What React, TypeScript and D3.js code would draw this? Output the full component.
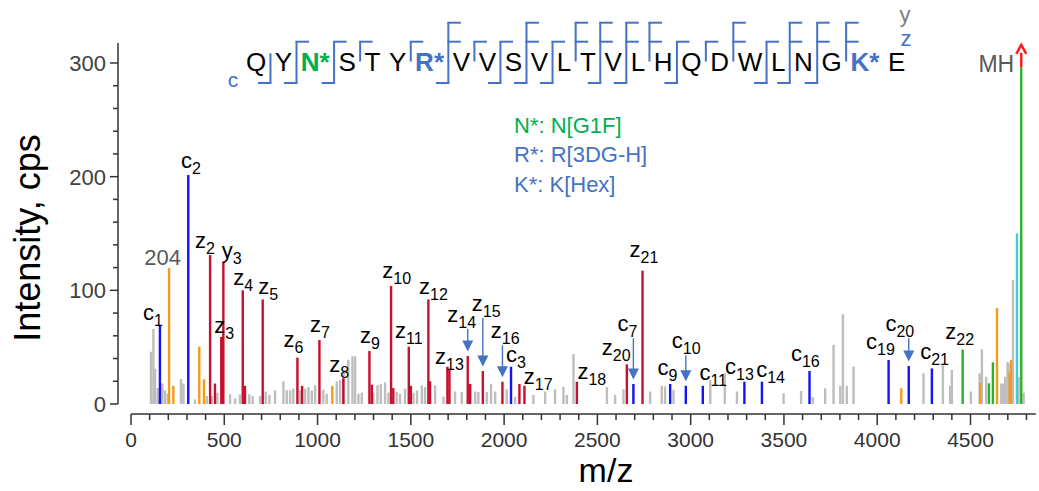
import React from 'react';
import * as d3 from 'd3';

const W = 1039;
const H = 491;

// ---------- DATA ----------
// peaks: [m/z, intensity]
const grayPeaks: [number, number][] = [
  [107, 46], [120, 66], [129, 31], [143, 14], [168, 18], [182, 12], [197, 9], [268, 22], [281, 18],
  [343, 4], [406, 7], [433, 7], [463, 10], [531, 8.5], [558, 5], [584, 8.5], [634, 8.5], [652, 7],
  [692, 7], [722, 11], [742, 8], [772, 12], [817, 20], [835, 12], [853, 12], [870, 13.5], [906, 12],
  [933, 13.5], [951, 15], [969, 12], [987, 16.5], [1031, 12.6], [1049, 9], [1103, 20], [1121, 21],
  [1142, 30], [1165, 39], [1187, 42], [1201, 42], [1219, 9], [1237, 10], [1299, 10], [1321, 16.5],
  [1339, 17.5], [1362, 19], [1380, 10], [1424, 10.5], [1442, 9], [1469, 13.5], [1514, 10], [1533, 12],
  [1559, 16.5], [1576, 15], [1630, 16.5], [1675, 6.5], [1737, 11], [1773, 10.5], [1845, 11], [1862, 10.5],
  [1907, 10.5], [1930, 17.6], [1952, 11], [2014, 13], [2059, 6.5], [2157, 8], [2220, 11], [2273, 13],
  [2318, 15], [2336, 8], [2372, 44], [2551, 15], [2595, 8], [2640, 13], [2783, 11], [2845, 16],
  [2863, 15.5], [2908, 12.5], [3105, 21], [3183, 27], [3248, 11], [3498, 9.4], [3592, 11.4], [3655, 6],
  [3721, 13.8], [3766, 52], [3802, 16], [3816, 79], [3837, 16], [3873, 33], [4248, 27], [4352, 34],
  [4391, 16], [4400, 30], [4502, 11], [4549, 27], [4561, 48], [4584, 24], [4665, 18], [4676, 18],
  [4686, 24], [4698, 37], [4704, 36], [4713, 27], [4728, 109], [4758, 24], [4785, 10],
];
const zyPeaks: [number, number][] = [
  [424, 131], [450, 18], [484, 59], [490, 59], [495, 124.6], [599, 100], [611, 16], [706, 92],
  [892, 40.8], [917, 16], [1010, 56.3], [1138, 22.6], [1278, 46.6], [1291, 17], [1394, 103.8],
  [1406, 14], [1489, 50.4], [1500, 16], [1594, 92], [1603, 20], [1696, 32.8], [1707, 30],
  [1805, 42.2], [1818, 17.6], [1886, 29], [1991, 19.6], [2082, 17.6], [2109, 16], [2390, 19.6],
  [2658, 34.9], [2742, 117.3],
];
const cPeaks: [number, number][] = [
  [155, 69.5], [307, 201.5], [2037, 32.8], [2693, 17.6], [2890, 17.6], [2974, 16], [3065, 16],
  [3288, 19.6], [3382, 19.6], [3637, 29], [4061, 38.7], [4169, 33.4], [4293, 31.3],
];
const orangePeaks: [number, number][] = [
  [204, 119.6], [227, 16], [366, 50.4], [391, 21.7], [1079, 16], [4129, 13.8], [4552, 18.7],
  [4642, 84.5], [4710, 27.6], [4717, 38.7],
];
const greenPeaks: [number, number][] = [[4458, 48], [4599, 18.2], [4620, 36.7], [4772, 296]];
const cyanPeaks: [number, number][] = [[4749, 150]];
const precursorMz = 4772;
const precursorTop = 316;

// ion labels: [ion letter, index, m/z of its peak, intensity of its peak]
const ionLabels: [string, number, number, number][] = [
  ['c', 1, 155, 69.5], ['c', 2, 307, 201.5], ['z', 2, 424, 131], ['y', 3, 495, 124.6],
  ['z', 3, 484, 59], ['z', 4, 599, 100], ['z', 5, 706, 92], ['z', 6, 892, 40.8], ['z', 7, 1010, 56.3],
  ['z', 8, 1138, 22.6], ['z', 9, 1278, 46.6], ['z', 10, 1394, 103.8], ['z', 11, 1489, 50.4],
  ['z', 12, 1594, 92], ['z', 13, 1696, 32.8], ['z', 14, 1805, 42.2], ['z', 15, 1886, 29],
  ['z', 16, 1991, 19.6], ['c', 3, 2037, 32.8], ['z', 17, 2082, 17.6], ['z', 18, 2390, 19.6],
  ['z', 20, 2658, 34.9], ['c', 7, 2693, 17.6], ['z', 21, 2742, 117.3], ['c', 9, 2890, 17.6],
  ['c', 10, 2974, 16], ['c', 11, 3065, 16], ['c', 13, 3288, 19.6], ['c', 14, 3382, 19.6],
  ['c', 16, 3637, 29], ['c', 19, 4061, 38.7], ['c', 20, 4169, 33.4], ['c', 21, 4293, 31.3],
  ['z', 22, 4458, 48],
];
const arrowLabels = ['z14', 'z15', 'z16', 'c7', 'c10', 'c20'];

const sequence = ['Q', 'Y', 'N*', 'S', 'T', 'Y', 'R*', 'V', 'V', 'S', 'V', 'L', 'T', 'V', 'L', 'H', 'Q', 'D', 'W', 'L', 'N', 'G', 'K*', 'E'];
const cIons = [1, 2, 3, 7, 9, 10, 11, 13, 14, 16, 19, 20, 21];
const zIons = [2, 3, 4, 5, 6, 7, 8, 9, 10, 11, 12, 13, 14, 15, 16, 17, 18, 20, 21, 22];
const yIons = [2, 3, 4, 6, 9, 10, 11, 12, 14, 17];
const modLegend = ['N*: N[G1F]', 'R*: R[3DG-H]', 'K*: K[Hex]'];

const yTicks = [0, 100, 200, 300];
const xTicks = [0, 500, 1000, 1500, 2000, 2500, 3000, 3500, 4000, 4500];

// ---------- STYLE / LAYOUT ----------
const FONT = "'Liberation Sans', Arial, sans-serif";
const C_GRAY = '#BEBEBE';
const C_RED = '#C8102E';
const C_BLUE = '#1414F5';
const C_ORANGE = '#F49A1C';
const C_GREEN = '#2CB22C';
const C_CYAN = '#3DCFD9';
const C_SEQBLUE = '#4472C4';
const C_SEQGREEN = '#00B050';
const AXIS = '#333333';

const modColor: Record<string, string> = { 'N*': C_SEQGREEN, 'R*': C_SEQBLUE, 'K*': C_SEQBLUE };
// Arial advance widths (em)
const adv: Record<string, number> = {
  Q: 0.778, Y: 0.667, N: 0.722, S: 0.667, T: 0.611, R: 0.722, V: 0.667, L: 0.556, H: 0.722,
  D: 0.722, W: 0.944, G: 0.778, K: 0.722, E: 0.667, '*': 0.389,
};
// label offsets: [dx from bar to label left, dy from bar top to label x-height top]
const labelLayout: Record<string, [number, number]> = {
  c1: [-17, -17], c2: [-7.3, -18.3], z2: [-15, -18.3], y3: [-1.6, -15.6], z3: [-7, -15],
  z4: [-9.4, -17.3], z5: [-4.4, -16.6], z6: [-14, -21.7], z7: [-9.3, -20], z8: [-14, -18.3],
  z9: [-9.3, -19.3], z10: [-8.7, -19.3], z11: [-13.7, -20], z12: [-9.3, -16.6], z13: [-12.3, -14],
  z14: [-20.4, -46], z15: [-11, -72], z16: [-11.6, -55.5], c3: [-5, -16], z17: [4.4, -11.5],
  z18: [0.6, -14.4], z20: [-25, -21], c7: [-16, -64.7], z21: [-13, -24.7], c9: [-12.7, -20.7],
  c10: [-14, -49.3], c11: [-3.4, -17.7], c13: [-19.3, -19], c14: [-5.7, -16.7], c16: [-18.6, -21.7],
  c19: [-22.6, -22.7], c20: [-23.3, -46.7], c21: [-11.7, -21], z22: [-17.3, -22],
};

const xs = d3.scaleLinear().domain([0, 4500]).range([131, 970.5]);
const ys = d3.scaleLinear().domain([0, 300]).range([404, 63]);

const BAR_W = 2.4;

function Bars({ data, color }: { data: [number, number][]; color: string }) {
  return (
    <g fill={color}>
      {data.map(([mz, v], i) => (
        <rect key={i} x={xs(mz) - BAR_W / 2} y={ys(v)} width={BAR_W} height={ys(0) - ys(v)} />
      ))}
    </g>
  );
}

function Arrow({ x, y1, y2, color }: { x: number; y1: number; y2: number; color: string }) {
  const head = 11;
  return (
    <g>
      <line x1={x} x2={x} y1={y1} y2={y2 - head + 1} stroke={color} strokeWidth={1.4} />
      <path d={`M${x - 5.5},${y2 - head}L${x + 5.5},${y2 - head}L${x},${y2}Z`} fill={color} />
    </g>
  );
}

function Sequence() {
  const F = 26;
  const gap = 8.7;
  const lefts: number[] = [];
  const widths: number[] = [];
  let x = 256 - (adv['Q'] * F) / 2;
  sequence.forEach((r) => {
    const w = r.split('').reduce((s, ch) => s + adv[ch] * F, 0);
    lefts.push(x);
    widths.push(w);
    x += w + gap;
  });
  const baseY = 71;
  const yTop = 22.7, zTop = 41.7, cTop = 53.3, bot = 83, topBot = 61.5, hl = 12.5;
  const n = sequence.length;
  const markers: JSX.Element[] = [];
  for (let b = 1; b < n; b++) {
    const bx = lefts[b - 1] + widths[b - 1] + gap / 2;
    const hasC = cIons.includes(b);
    const hasZ = zIons.includes(n - b);
    const hasY = yIons.includes(n - b);
    if (!hasC && !hasZ && !hasY) continue;
    const top = hasY ? yTop : hasZ ? zTop : cTop;
    const bottom = hasC ? bot : topBot;
    markers.push(
      <g key={b} stroke={C_SEQBLUE} strokeWidth={2} fill="none">
        <line x1={bx} x2={bx} y1={top} y2={bottom} />
        {hasY && <line x1={bx - 1} x2={bx + hl} y1={yTop} y2={yTop} />}
        {hasZ && <line x1={bx - 1} x2={bx + hl} y1={zTop} y2={zTop} />}
        {hasC && <line x1={bx - hl} x2={bx + 1} y1={bot} y2={bot} />}
      </g>
    );
  }
  return (
    <g fontFamily={FONT}>
      {markers}
      {sequence.map((r, i) => (
        <text
          key={i}
          x={lefts[i]}
          y={baseY}
          fontSize={F}
          fontWeight={modColor[r] ? 'bold' : 'normal'}
          fill={modColor[r] || '#000'}
        >
          {r}
        </text>
      ))}
      <text x={233} y={87} fontSize={21} fill={C_SEQBLUE} textAnchor="middle">c</text>
      <text x={905} y={22} fontSize={22} fill="#808080" textAnchor="middle">y</text>
      <text x={906} y={46} fontSize={22} fill={C_SEQBLUE} textAnchor="middle">z</text>
    </g>
  );
}

export default function App() {
  const y0 = ys(0);
  const axisY = 414;
  const minorY = d3.range(0, 301, 20);
  const minorX = d3.range(0, 4801, 100);
  return (
    <svg
      width={W}
      height={H}
      viewBox={`0 0 ${W} ${H}`}
      style={{ position: 'absolute', left: 0, top: 0, background: '#fff' }}
      fontFamily={FONT}
    >
      <rect x={0} y={0} width={W} height={H} fill="#fff" />
      {/* y axis */}
      <g stroke={AXIS} strokeWidth={1.5}>
        <line x1={118} x2={118} y1={43} y2={y0} />
        {minorY.map((v) => (
          <line key={v} x1={yTicks.includes(v) ? 110 : 113} x2={118} y1={ys(v)} y2={ys(v)} />
        ))}
      </g>
      {yTicks.map((v) => (
        <text key={v} x={106} y={ys(v) + 8} fontSize={22} fill="#404040" textAnchor="end">
          {v}
        </text>
      ))}
      <text
        transform={`translate(40,${238}) rotate(-90)`}
        fontSize={36}
        textAnchor="middle"
        fill="#000"
      >
        Intensity, cps
      </text>
      {/* x axis */}
      <g stroke={AXIS} strokeWidth={1.5}>
        <line x1={xs(0)} x2={xs(4850)} y1={axisY} y2={axisY} />
        {minorX.map((v) => (
          <line key={v} x1={xs(v)} x2={xs(v)} y1={axisY} y2={axisY + (v % 500 === 0 ? 11 : 6)} />
        ))}
      </g>
      {xTicks.map((v) => (
        <text key={v} x={xs(v)} y={447} fontSize={21} fill="#333" textAnchor="middle">
          {v}
        </text>
      ))}
      <text x={606} y={482} fontSize={34} textAnchor="middle" fill="#000">
        m/z
      </text>

      {/* peaks */}
      <Bars data={grayPeaks} color={C_GRAY} />
      <Bars data={orangePeaks} color={C_ORANGE} />
      <Bars data={zyPeaks} color={C_RED} />
      <Bars data={cPeaks} color={C_BLUE} />
      <Bars data={cyanPeaks} color={C_CYAN} />
      <Bars data={greenPeaks} color={C_GREEN} />
      {/* off-scale precursor */}
      <g>
        <rect
          x={xs(precursorMz) - BAR_W / 2}
          y={ys(precursorTop) + 8}
          width={BAR_W}
          height={ys(greenPeaks[3][1]) - ys(precursorTop) - 8}
          fill="#FF1A1A"
        />
        <path
          d={`M${xs(precursorMz) - 5},${ys(precursorTop) + 9}L${xs(precursorMz)},${ys(precursorTop)}L${xs(precursorMz) + 5},${ys(precursorTop) + 9}`}
          fill="none"
          stroke="#FF1A1A"
          strokeWidth={2.4}
        />
      </g>
      <text x={xs(precursorMz) - 7} y={72} fontSize={23} fill="#595959" textAnchor="end">
        MH
      </text>
      <text x={xs(204) - 6.5} y={ys(119.6) - 3} fontSize={22} fill="#595959" textAnchor="middle">
        204
      </text>

      {/* ion labels */}
      {ionLabels.map(([ion, idx, mz, v]) => {
        const key = `${ion}${idx}`;
        const [dx, dT] = labelLayout[key];
        const bx = xs(mz);
        const top = ys(v);
        const L = bx + dx;
        const T = top + dT;
        return (
          <g key={key}>
            <text x={L} y={T + 11.5} fontSize={22} fill="#000">
              {ion}
              <tspan fontSize={16} dy={6}>
                {idx}
              </tspan>
            </text>
            {arrowLabels.includes(key) && (
              <Arrow x={bx} y1={T + 19} y2={top - 4.5} color={C_SEQBLUE} />
            )}
          </g>
        );
      })}

      {/* modification legend */}
      {modLegend.map((t, i) => (
        <text key={t} x={514} y={132.7 + i * 29.5} fontSize={22} fill={i === 0 ? C_SEQGREEN : C_SEQBLUE}>
          {t}
        </text>
      ))}

      <Sequence />
    </svg>
  );
}
